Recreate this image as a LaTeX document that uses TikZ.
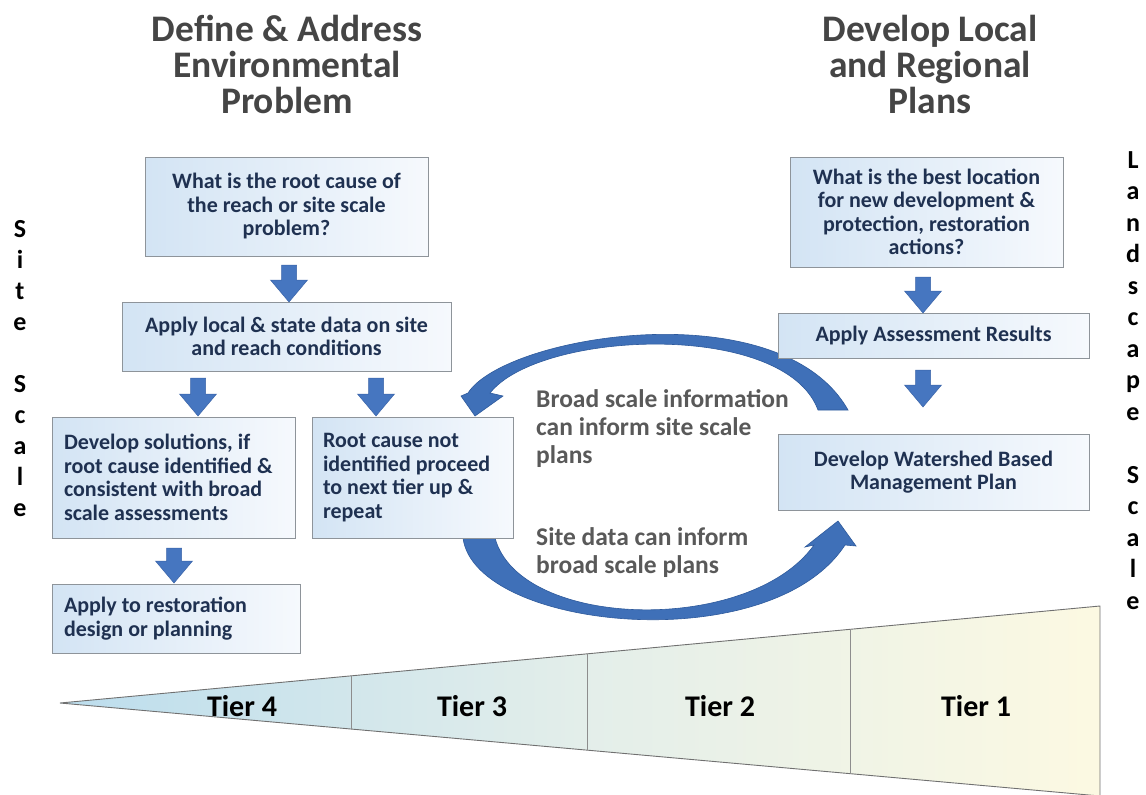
\documentclass[tikz,border=0pt]{standalone}
\usepackage{fontspec}
\setmainfont{Carlito}
\usetikzlibrary{calc}
\definecolor{navy}{HTML}{1F3151}
\definecolor{boxL}{HTML}{D3E4F4}
\definecolor{boxR}{HTML}{F6F9FD}
\definecolor{boxedge}{HTML}{8E949A}
\definecolor{arcfill}{HTML}{3F70B8}
\definecolor{arcedge}{HTML}{2E5A9C}
\definecolor{arrfill}{HTML}{4676C0}
\definecolor{arredge}{HTML}{3A64A8}
\definecolor{titlegray}{HTML}{454545}
\definecolor{arctext}{HTML}{595959}
\definecolor{triL}{HTML}{BCDDED}
\definecolor{triM}{HTML}{E3EEEA}
\definecolor{triR}{HTML}{FCF9E2}
\definecolor{triedge}{HTML}{707070}
\newcommand{\blockarr}[2]{%
  \filldraw[barrow] let \p1=(#1), \p2=(#2) in
    (\x1-7.5pt,\y1) -- (\x1+7.5pt,\y1) -- (\x1+7.5pt,\y2+22pt) -- (\x1+18.5pt,\y2+22pt)
    -- (\x2,\y2) -- (\x1-18.5pt,\y2+22pt) -- (\x1-7.5pt,\y2+22pt) -- cycle;}
\begin{document}
\begin{tikzpicture}[x=1pt,y=-1pt,
  box/.style={draw=boxedge, line width=0.8pt, left color=boxL, right color=boxR,
    inner sep=0pt, font=\fontsize{22}{23.5}\selectfont\bfseries, text=navy, align=center},
  lbox/.style={box, align=flush left},
  barrow/.style={fill=arrfill, draw=arredge, line width=0.5pt},
  arcarrow/.style={fill=arcfill, draw=arcedge, line width=0.6pt},
  title/.style={font=\fontsize{37.5}{36}\selectfont\bfseries, text=titlegray, align=center},
  arclabel/.style={font=\fontsize{25.5}{28}\selectfont\bfseries, text=arctext, align=flush left, anchor=west, inner sep=0pt},
  tier/.style={font=\fontsize{30}{32}\selectfont\bfseries, text=black},
  side/.style={font=\fontsize{26}{28}\selectfont\bfseries, text=black, anchor=base, inner sep=0pt}]
\useasboundingbox (0,0) rectangle (1146,795);
\fill[white] (0,0) rectangle (1146,795);

% tier wedge
\coordinate (tip) at (60,703);
\coordinate (tr) at (1100,606);
\coordinate (br) at (1100,796);
\shade[left color=triL, right color=triR, middle color=triM] (tip) -- (tr) -- (br) -- cycle;
\draw[triedge, line width=0.9pt] (tip) -- (tr) -- (br) -- cycle;
\foreach \f in {0.2798,0.5067,0.7596}
  \draw[triedge!80, line width=0.6pt] ($(tip)!\f!(tr)$) -- ($(tip)!\f!(br)$);
\node[tier] (t4) at (242,706) {Tier 4};
\node[tier] (t3) at (472,706) {Tier 3};
\node[tier] (t2) at (720,706) {Tier 2};
\node[tier] (t1) at (976,706) {Tier 1};

% titles
\node[title] (tl) at (287,64) {Define \& Address\\Environmental\\Problem};
\node[title] (tr2) at (930,64) {Develop Local\\and Regional\\Plans};

% curved arrows (behind boxes)
\coordinate (uT1) at (818,410); \coordinate (uT2) at (848,410);
\coordinate (uH) at (475,416);
\fill[arcarrow] (uT1) .. controls (785,320) and (540,330) .. (490,393) -- (503,396)
  -- (uH) -- (461,396) -- (468,393) .. controls (505,335) and (780,290) .. (uT2) -- cycle;
\coordinate (lT1) at (463,538); \coordinate (lT2) at (495,538);
\coordinate (lH) at (838,521);
\fill[arcarrow] (lT1) .. controls (475,630) and (770,660) .. (845,545) -- (856,546)
  -- (lH) -- (805,547) -- (814,545) .. controls (750,635) and (520,630) .. (lT2) -- cycle;

% left column boxes
\node[box, minimum width=283, minimum height=99] (q1) at (286.5,206.5)
  {What is the root cause of\\the reach or site scale\\problem?};
\node[box, minimum width=329, minimum height=69] (q2) at (286.5,336.5)
  {Apply local \& state data on site\\and reach conditions};
\node[lbox, minimum width=243, minimum height=121, text width=219, inner xsep=12pt] (q3) at (173.5,477.5)
  {Develop solutions, if\\root cause identified \&\\consistent with broad\\scale assessments};
\node[lbox, minimum width=201, minimum height=121, text width=179, inner xsep=11pt] (q4) at (412.5,477.5)
  {Root cause not\\identified proceed\\to next tier up \&\\repeat};
\node[lbox, minimum width=248, minimum height=69, text width=224, inner xsep=12pt] (q5) at (176,618.5)
  {Apply to restoration\\design or planning};

% right column boxes
\node[box, minimum width=273, minimum height=110] (r1) at (926.5,212)
  {What is the best location\\for new development \&\\protection, restoration\\actions?};
\node[box, minimum width=311, minimum height=45] (r2) at (933.5,335.5)
  {Apply Assessment Results};
\node[box, minimum width=311, minimum height=76] (r3) at (933.5,472)
  {Develop Watershed Based\\Management Plan};

% block arrows
\coordinate (a1s) at (289,265); \coordinate (a1e) at (289,302);
\coordinate (a2s) at (198,378); \coordinate (a2e) at (198,416);
\coordinate (a3s) at (376,378); \coordinate (a3e) at (376,416);
\coordinate (a4s) at (174,548); \coordinate (a4e) at (174,583);
\coordinate (a5s) at (923,277); \coordinate (a5e) at (923,313);
\coordinate (a6s) at (923,370); \coordinate (a6e) at (923,407);
\blockarr{a1s}{a1e}
\blockarr{a2s}{a2e}
\blockarr{a3s}{a3e}
\blockarr{a4s}{a4e}
\blockarr{a5s}{a5e}
\blockarr{a6s}{a6e}

% arc labels
\node[arclabel] (bl) at (536,429) {Broad scale information\\can inform site scale\\plans};
\node[arclabel] (sl) at (536,553) {Site data can inform\\broad scale plans};

% side labels
\foreach \ch [count=\i from 0] in {S,i,t,e,{},S,c,a,l,e}
  \node[side] at (20,{237+31*\i}) {\ch};
\foreach \ch [count=\i from 0] in {L,a,n,d,s,c,a,p,e,{},S,c,a,l,e}
  \node[side] at (1133,{168+31.5*\i}) {\ch};
\end{tikzpicture}
\end{document}
